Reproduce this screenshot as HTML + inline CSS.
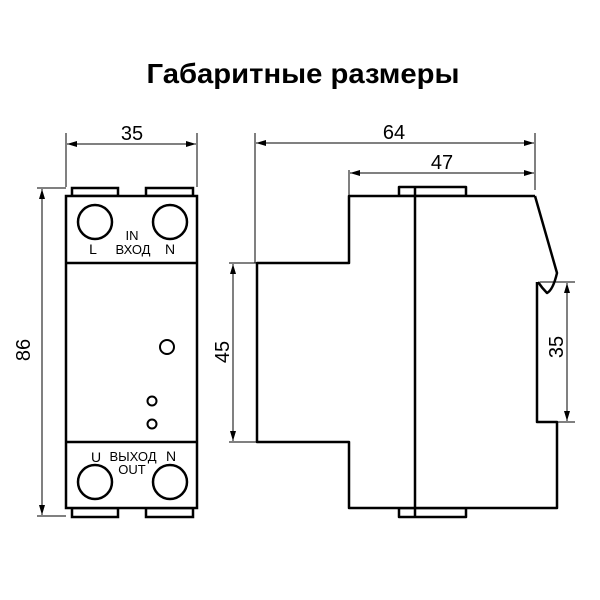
<!DOCTYPE html>
<html><head><meta charset="utf-8"><style>html,body{margin:0;padding:0;background:#fff}svg{display:block}</style></head>
<body>
<svg width="600" height="600" viewBox="0 0 600 600" xmlns="http://www.w3.org/2000/svg" font-family="Liberation Sans, Noto Sans CJK SC, sans-serif">
<defs>
<marker id="a" viewBox="0 0 10 6" refX="10" refY="3" markerWidth="10" markerHeight="6" orient="auto-start-reverse" markerUnits="userSpaceOnUse"><path d="M0,0 L10,3 L0,6 z" fill="#000"/></marker>
</defs>
<text x="303" y="83" font-size="28" font-weight="bold" text-anchor="middle" textLength="313" lengthAdjust="spacingAndGlyphs">Габаритные размеры</text>

<g stroke="#000" stroke-width="1" fill="none">
<line x1="66" y1="133" x2="66" y2="187"/><line x1="197" y1="133" x2="197" y2="187"/>
<line x1="67" y1="144" x2="196" y2="144" marker-start="url(#a)" marker-end="url(#a)"/>
<line x1="37" y1="188" x2="66" y2="188"/><line x1="37" y1="516" x2="66" y2="516"/>
<line x1="42" y1="189" x2="42" y2="515" marker-start="url(#a)" marker-end="url(#a)"/>
</g>
<text x="132" y="140" font-size="20" text-anchor="middle">35</text>
<text transform="translate(30,350) rotate(-90)" font-size="20" text-anchor="middle">86</text>

<g stroke="#000" stroke-width="2.5" fill="none">
<rect x="72" y="188" width="46" height="8"/><rect x="146" y="188" width="47" height="8"/>
<rect x="72" y="508" width="46" height="9"/><rect x="146" y="508" width="47" height="9"/>
<rect x="66" y="196" width="131" height="312" fill="#fff"/>
<line x1="66" y1="263" x2="197" y2="263"/><line x1="66" y1="442" x2="197" y2="442"/>
<circle cx="95" cy="222" r="17"/><circle cx="170" cy="222" r="17"/>
<circle cx="95" cy="482" r="17"/><circle cx="170" cy="482" r="17"/>
<circle cx="167" cy="347" r="7" stroke-width="2"/>
<circle cx="152" cy="401" r="4.5" stroke-width="2"/><circle cx="152" cy="424" r="4.5" stroke-width="2"/>
</g>
<g font-size="13" text-anchor="middle">
<text x="132" y="240">IN</text>
<text x="93" y="254" font-size="14">L</text>
<text x="133" y="254">ВХОД</text>
<text x="170" y="254" font-size="14">N</text>
<text x="96" y="462" font-size="14">U</text>
<text x="133" y="461">ВЫХОД</text>
<text x="171" y="461" font-size="14">N</text>
<text x="132" y="474">OUT</text>
</g>

<g stroke="#000" stroke-width="1" fill="none">
<line x1="255" y1="133" x2="255" y2="263"/><line x1="535" y1="133" x2="535" y2="190"/>
<line x1="256" y1="143" x2="534" y2="143" marker-start="url(#a)" marker-end="url(#a)"/>
<line x1="349" y1="170" x2="349" y2="197"/>
<line x1="350" y1="173" x2="534" y2="173" marker-start="url(#a)" marker-end="url(#a)"/>
<line x1="229" y1="263" x2="257" y2="263"/><line x1="229" y1="442" x2="257" y2="442"/>
<line x1="233" y1="264" x2="233" y2="441" marker-start="url(#a)" marker-end="url(#a)"/>
<line x1="540" y1="282" x2="575" y2="282"/><line x1="557" y1="422" x2="575" y2="422"/>
<line x1="567" y1="283" x2="567" y2="421" marker-start="url(#a)" marker-end="url(#a)"/>
</g>
<text x="394" y="139" font-size="20" text-anchor="middle">64</text>
<text x="442" y="169" font-size="20" text-anchor="middle">47</text>
<text transform="translate(229,352) rotate(-90)" font-size="20" text-anchor="middle">45</text>
<text transform="translate(563,347) rotate(-90)" font-size="20" text-anchor="middle">35</text>

<g stroke="#000" stroke-width="2.5" fill="none" stroke-linejoin="round">
<rect x="399" y="187" width="67" height="9"/><rect x="399" y="508" width="67" height="9"/>
<path d="M535,196 L349,196 L349,263 L257,263 L257,442 L349,442 L349,508 L557,508 L557,422 L537,422 L537,282" fill="#fff"/>
<path d="M535,196 L557,273 Q553,290 547,293 Q542,288 538,282"/>
<line x1="415" y1="188" x2="415" y2="517"/>
</g>
</svg>
</body></html>
